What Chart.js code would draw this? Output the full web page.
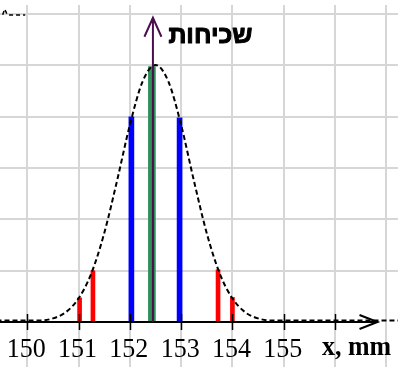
<!DOCTYPE html>
<html>
<head>
<meta charset="utf-8">
<script src="https://cdn.jsdelivr.net/npm/chart.js@4.4.1/dist/chart.umd.min.js"></script>
<style>
    html, body { margin: 0; padding: 0; background: #fff; }
    #wrap { width: 398px; height: 367px; }
</style>
</head>
<body>
<div id="wrap"><canvas id="grafica"></canvas></div>
<script>
// valores (x en mm, y en unidades de la cuadrícula)
const rojoX = [151.02, 151.28, 153.72, 154.0];
const rojoY = [0.47, 1.0, 1.02, 0.48];
const azulX = [152.03, 152.97];
const azulY = [4.0, 3.98];
const verdeX = [152.43];
const verdeY = [4.98];

const curvaX = [149.4, 149.75, 150.0, 150.25, 150.5, 150.75, 151.0, 151.25, 151.5, 151.75, 152.0, 152.25, 152.5,
                152.75, 153.0, 153.25, 153.5, 153.75, 154.0, 154.25, 154.5, 154.75, 155.0, 155.5, 156.0, 157.3];
const curvaY = [0.03, 0.03, 0.03, 0.03, 0.07, 0.19, 0.46, 0.95, 1.73, 2.75, 3.84, 4.69, 5.01,
                4.69, 3.84, 2.75, 1.73, 0.95, 0.46, 0.19, 0.07, 0.03, 0.03, 0.03, 0.03, 0.03];

// trocito de curva en la esquina superior izquierda
const esquinaX = [149.52, 149.56, 149.61, 149.64, 149.96];
const esquinaY = [5.99, 6.1, 5.99, 5.985, 5.985];

const etiquetasX = [150, 151, 152, 153, 154, 155];
const marcasX = [150, 151, 152, 153, 154, 155, 156];
const rejillaX = [149.5, 150.5, 151.5, 152.5, 153.5, 154.5, 155.5, 156.5];
const rejillaY = [1, 2, 3, 4, 5, 6];

const tituloY = 'שכיחות';
const tituloX = 'x, mm';
const ejeVertical = 152.45;
const puntaVertical = 5.93;
const puntaHorizontal = 156.83;

const puntos = (xs, ys) => xs.map((x, i) => ({ x: x, y: ys[i] }));

// ejes con flechas, marcas y textos
const ejesPlugin = {
    id: 'ejes',
    afterDatasetsDraw(chart) {
        const ctx = chart.ctx;
        const sx = chart.scales.x, sy = chart.scales.y;
        const y0 = sy.getPixelForValue(0);
        ctx.save();

        // eje x
        const xFin = sx.getPixelForValue(puntaHorizontal);
        ctx.strokeStyle = '#000';
        ctx.lineWidth = 2;
        ctx.beginPath();
        ctx.moveTo(0, y0); ctx.lineTo(xFin, y0);
        ctx.moveTo(xFin - 18, y0 - 7); ctx.lineTo(xFin, y0); ctx.lineTo(xFin - 18, y0 + 7);
        ctx.stroke();

        ctx.lineWidth = 1.5;
        marcasX.forEach(v => {
            const px = Math.round(sx.getPixelForValue(v)) + 0.5;
            ctx.beginPath();
            ctx.moveTo(px, y0 - 8); ctx.lineTo(px, y0 + 8);
            ctx.stroke();
        });

        ctx.fillStyle = '#000';
        ctx.font = '28px "Liberation Serif", "Times New Roman", serif';
        ctx.textAlign = 'center';
        ctx.textBaseline = 'alphabetic';
        etiquetasX.forEach(v => {
            ctx.fillText(String(v), sx.getPixelForValue(v) - 1, 357, 39);
        });

        ctx.font = 'bold 28px "Liberation Serif", "Times New Roman", serif';
        ctx.textAlign = 'left';
        ctx.fillText(tituloX, 322, 355, 69);

        // eje vertical (flecha morada)
        const xv = sx.getPixelForValue(ejeVertical);
        const yTop = sy.getPixelForValue(puntaVertical);
        ctx.strokeStyle = '#4a0f4c';
        ctx.lineWidth = 2;
        ctx.beginPath();
        ctx.moveTo(xv, y0); ctx.lineTo(xv, yTop);
        ctx.moveTo(xv - 8.5, yTop + 19); ctx.lineTo(xv, yTop); ctx.lineTo(xv + 8.5, yTop + 19);
        ctx.stroke();

        // título hebreo, un poco más grueso
        ctx.font = 'bold 25px "Liberation Sans", Arial, sans-serif';
        ctx.strokeStyle = '#000';
        ctx.lineWidth = 1;
        ctx.lineJoin = 'round';
        ctx.strokeText(tituloY, xv + 15.5, 43, 88);
        ctx.fillText(tituloY, xv + 15.5, 43, 88);
        ctx.restore();
    }
};

const ctx = document.getElementById('grafica').getContext('2d');
new Chart(ctx, {
    type: 'bar',
    data: {
        datasets: [
            {
                type: 'line',
                data: puntos(curvaX, curvaY),
                borderColor: '#000',
                borderWidth: 2,
                borderDash: [5, 3],
                pointRadius: 0,
                fill: false,
                cubicInterpolationMode: 'monotone'
            },
            {
                type: 'line',
                data: puntos(esquinaX, esquinaY),
                borderColor: '#000',
                borderWidth: 1.5,
                borderDash: [4, 3],
                pointRadius: 0,
                fill: false,
                tension: 0
            },
            {
                data: puntos(verdeX, verdeY),
                backgroundColor: '#2e8f58',
                barThickness: 7,
                grouped: false
            },
            {
                data: puntos(azulX, azulY),
                backgroundColor: '#0000ff',
                barThickness: 5,
                grouped: false
            },
            {
                data: puntos(rojoX, rojoY),
                backgroundColor: '#ff0000',
                barThickness: 4,
                grouped: false
            }
        ]
    },
    options: {
        responsive: true,
        maintainAspectRatio: false,
        animation: false,
        layout: { padding: { top: 5, left: 0, right: 0, bottom: 0 } },
        plugins: { legend: { display: false }, tooltip: { enabled: false } },
        scales: {
            x: {
                type: 'linear',
                min: 149.468,
                max: 157.229,
                offset: false,
                ticks: { display: false },
                grid: { color: '#d6d6d6', lineWidth: 2, drawTicks: false },
                border: { display: false },
                afterBuildTicks: s => { s.ticks = rejillaX.map(v => ({ value: v })); }
            },
            y: {
                min: -0.877,
                max: 6.179,
                ticks: { display: false },
                grid: { color: '#d6d6d6', lineWidth: 2, drawTicks: false },
                border: { display: false },
                afterBuildTicks: s => { s.ticks = rejillaY.map(v => ({ value: v })); }
            }
        }
    },
    plugins: [ejesPlugin]
});
</script>
</body>
</html>
